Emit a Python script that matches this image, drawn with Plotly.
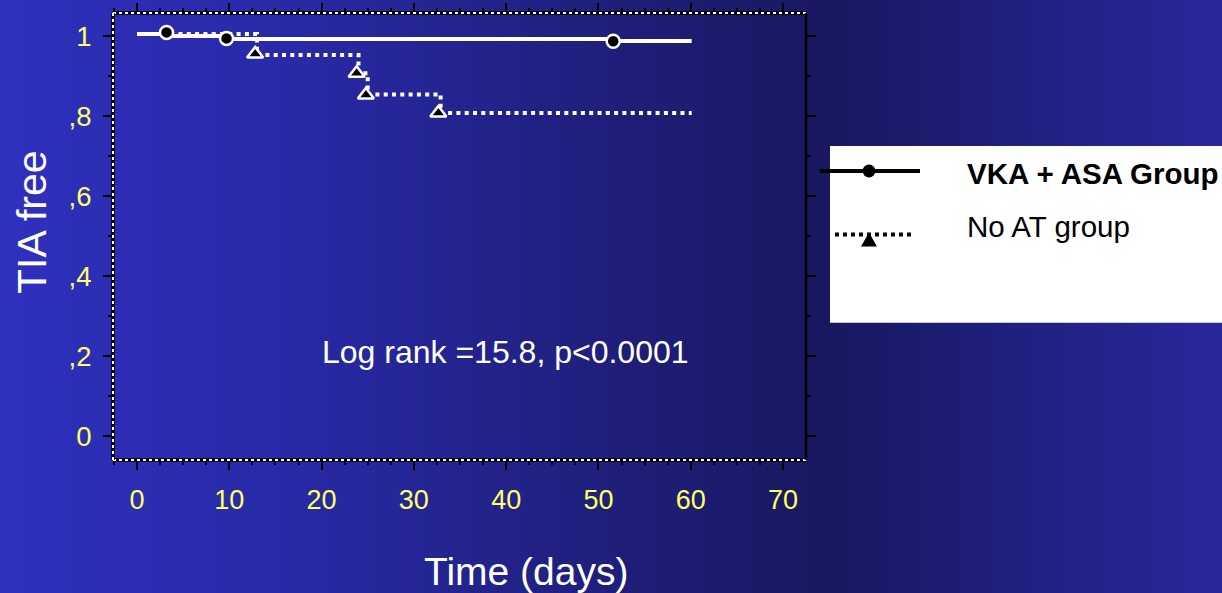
import base64
import struct
import zlib
import plotly.graph_objects as go

# ---------------- data ----------------
vka_time = [0, 3.2, 9.7, 51.6, 60.1]
vka_surv = [1.005, 1.0, 0.9925, 0.9875, 0.9875]
vka_cens_time = [3.2, 9.7, 51.6]
vka_cens_surv = [1.009, 0.994, 0.987]

noat_time = [0, 13.0, 24.0, 25.0, 32.9, 60.1]
noat_surv = [1.005, 0.9525, 0.907, 0.854, 0.8075, 0.8075]
noat_event_time = [12.8, 23.8, 24.8, 32.65]
noat_event_surv = [0.955, 0.907, 0.8525, 0.8075]

x_tickvals = [0, 10, 20, 30, 40, 50, 60, 70]
y_tickvals = [0, 0.2, 0.4, 0.6, 0.8, 1.0]
y_ticktext = ["0", ",2", ",4", ",6", ",8", "1"]

series_names = ["VKA + ASA Group", "No AT group"]
annotation_text = "Log rank =15.8, p<0.0001"

# ---------------- page geometry ----------------
W, H = 1222, 593
FONT = "Liberation Sans, Arial, sans-serif"
YELLOW = "#FFFF66"


def PX(x):
    return x / W


def PY(y):
    return 1 - y / H


# ---------------- background gradient (PNG data URI) ----------------
stops = [(0, (47, 48, 190)), (300, (40, 41, 165)), (600, (31, 31, 124)),
         (830, (24, 24, 96)), (1020, (32, 32, 128)), (1222, (40, 40, 156))]


def color_at(x):
    for (x0, c0), (x1, c1) in zip(stops[:-1], stops[1:]):
        if x0 <= x <= x1:
            f = (x - x0) / (x1 - x0)
            return tuple(int(round(a + (b - a) * f)) for a, b in zip(c0, c1))
    return stops[-1][1]


row = bytearray(b"\x00")
for x in range(W):
    row.extend(color_at(x))
raw = bytes(row) + bytes(row)


def chunk(tag, data):
    return (struct.pack(">I", len(data)) + tag + data
            + struct.pack(">I", zlib.crc32(tag + data) & 0xFFFFFFFF))


png = (b"\x89PNG\r\n\x1a\n"
       + chunk(b"IHDR", struct.pack(">IIBBBBB", W, 2, 8, 2, 0, 0, 0))
       + chunk(b"IDAT", zlib.compress(raw))
       + chunk(b"IEND", b""))
bg_uri = "data:image/png;base64," + base64.b64encode(png).decode()

# ---------------- figure ----------------
fig = go.Figure()

fig.add_trace(go.Scatter(x=vka_time, y=vka_surv, mode="lines", line_shape="hv",
                         line=dict(color="white", width=4), name=series_names[0],
                         showlegend=False, hoverinfo="skip"))
fig.add_trace(go.Scatter(x=noat_time, y=noat_surv, mode="lines", line_shape="hv",
                         line=dict(color="white", width=4, dash="4px,4.3px"),
                         name=series_names[1], showlegend=False, hoverinfo="skip"))
fig.add_trace(go.Scatter(x=vka_cens_time, y=vka_cens_surv, mode="markers",
                         marker=dict(symbol="circle", size=13, color="black",
                                     line=dict(color="white", width=2.5)),
                         showlegend=False, hoverinfo="skip"))
fig.add_trace(go.Scatter(x=noat_event_time, y=noat_event_surv, mode="markers",
                         marker=dict(symbol="triangle-up", size=14, color="black",
                                     line=dict(color="white", width=2.5)),
                         showlegend=False, hoverinfo="skip"))

x_dom = [PX(113), PX(806)]
y_dom = [PY(460), PY(13)]

tick_common = dict(ticks="outside", ticklen=9, tickwidth=2, tickcolor="black",
                   mirror="ticks", showline=False, showgrid=False, zeroline=False)

fig.update_xaxes(domain=x_dom, range=[-2.6, 72.49], tickvals=x_tickvals,
                 tickfont=dict(family=FONT, size=27, color=YELLOW),
                 ticklabelstandoff=7,
                 minor=dict(dtick=2.5, tick0=0, ticks="outside", ticklen=4,
                            tickwidth=2, tickcolor="black", showgrid=False),
                 **tick_common)
fig.update_yaxes(domain=y_dom, range=[-0.06, 1.0575], tickvals=y_tickvals,
                 ticktext=y_ticktext,
                 tickfont=dict(family=FONT, size=27.5, color=YELLOW),
                 ticklabelstandoff=6,
                 minor=dict(dtick=0.1, tick0=0, ticks="outside", ticklen=4,
                            tickwidth=2, tickcolor="black", showgrid=False),
                 **tick_common)

shapes = []
# frame: dotted top / bottom / left, solid right
for (x0, y0, x1, y1) in [(0, 1, 1, 1), (0, 0, 1, 0), (0, 0, 0, 1)]:
    shapes.append(dict(type="line", xref="x domain", yref="y domain",
                       x0=x0, y0=y0, x1=x1, y1=y1,
                       line=dict(color="black", width=3.5)))
    shapes.append(dict(type="line", xref="x domain", yref="y domain",
                       x0=x0, y0=y0, x1=x1, y1=y1,
                       line=dict(color="white", width=2, dash="3px,3px")))
shapes.append(dict(type="line", xref="x domain", yref="y domain",
                   x0=1, y0=0, x1=1, y1=1, line=dict(color="black", width=2.5)))

# legend box
shapes.append(dict(type="rect", xref="paper", yref="paper",
                   x0=PX(830), x1=PX(1222), y0=PY(322.7), y1=PY(146),
                   fillcolor="white", line=dict(width=0), layer="above"))
shapes.append(dict(type="line", xref="paper", yref="paper",
                   x0=PX(820), x1=PX(920), y0=PY(171), y1=PY(171),
                   line=dict(color="black", width=4)))
shapes.append(dict(type="circle", xref="paper", yref="paper",
                   x0=PX(862.5), x1=PX(875.5), y0=PY(177.5), y1=PY(164.5),
                   fillcolor="black", line=dict(width=0)))
shapes.append(dict(type="line", xref="paper", yref="paper",
                   x0=PX(835), x1=PX(913), y0=PY(234.5), y1=PY(234.5),
                   line=dict(color="black", width=4, dash="4px,4px")))
shapes.append(dict(type="path", xref="paper", yref="paper",
                   path="M {:.5f},{:.5f} L {:.5f},{:.5f} L {:.5f},{:.5f} Z".format(
                       PX(861), PY(246.5), PX(877), PY(246.5), PX(869), PY(232.5)),
                   fillcolor="black", line=dict(width=0)))

annotations = [
    dict(text="TIA free", xref="paper", yref="paper", x=PX(32), y=PY(222),
         textangle=-90, showarrow=False, xanchor="center", yanchor="middle",
         font=dict(family=FONT, size=41, color="white")),
    dict(text="Time (days)", xref="paper", yref="paper", x=PX(526), y=PY(571),
         showarrow=False, xanchor="center", yanchor="middle",
         font=dict(family=FONT, size=39, color="white")),
    dict(text=annotation_text, xref="x", yref="y", x=39.93, y=0.21,
         showarrow=False, xanchor="center", yanchor="middle",
         font=dict(family=FONT, size=32, color="white")),
    dict(text="<b>" + series_names[0] + "</b>", xref="paper", yref="paper",
         x=PX(965), y=PY(173), showarrow=False, xanchor="left", yanchor="middle",
         font=dict(family=FONT, size=29.5, color="black")),
    dict(text=series_names[1], xref="paper", yref="paper",
         x=PX(965), y=PY(227), showarrow=False, xanchor="left", yanchor="middle",
         font=dict(family=FONT, size=29.5, color="black")),
]

fig.update_layout(
    width=W, height=H, margin=dict(l=0, r=0, t=0, b=0, pad=0),
    paper_bgcolor="#222280", plot_bgcolor="rgba(0,0,0,0)",
    showlegend=False, shapes=shapes, annotations=annotations,
    images=[dict(source=bg_uri, xref="paper", yref="paper", x=0, y=1,
                 sizex=1, sizey=1, xanchor="left", yanchor="top",
                 sizing="stretch", layer="below")],
)

fig.write_html(
    "out.html",
    config={"displayModeBar": False},
    post_script="document.body.style.margin='0';document.body.style.overflow='hidden';",
)
